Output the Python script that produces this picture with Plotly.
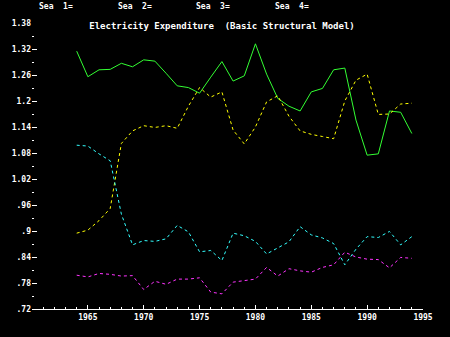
import plotly.graph_objects as go

# Seasonal factors by quarter, electricity expenditure, basic structural model
years = list(range(1964, 1995))

sea1 = [1.315, 1.256, 1.272, 1.273, 1.287, 1.279, 1.295, 1.292, 1.264, 1.235,
        1.231, 1.218, 1.255, 1.291, 1.246, 1.258, 1.332, 1.262, 1.206, 1.188,
        1.177, 1.221, 1.229, 1.272, 1.276, 1.156, 1.075, 1.078, 1.177, 1.174,
        1.125]
sea2 = [0.895, 0.902, 0.924, 0.952, 1.102, 1.131, 1.143, 1.139, 1.143, 1.137,
        1.188, 1.231, 1.209, 1.221, 1.133, 1.101, 1.140, 1.198, 1.212, 1.165,
        1.131, 1.123, 1.118, 1.113, 1.200, 1.248, 1.262, 1.169, 1.170, 1.193,
        1.195]
sea3 = [1.098, 1.096, 1.078, 1.062, 0.939, 0.868, 0.878, 0.876, 0.882, 0.913,
        0.898, 0.852, 0.855, 0.832, 0.895, 0.889, 0.876, 0.847, 0.861, 0.875,
        0.910, 0.891, 0.884, 0.871, 0.822, 0.858, 0.887, 0.885, 0.899, 0.868,
        0.887]
sea4 = [0.798, 0.794, 0.802, 0.800, 0.796, 0.797, 0.765, 0.784, 0.777, 0.789,
        0.789, 0.792, 0.759, 0.755, 0.782, 0.785, 0.789, 0.816, 0.796, 0.813,
        0.808, 0.805, 0.816, 0.822, 0.851, 0.840, 0.835, 0.834, 0.815, 0.839,
        0.837]

y_ticks = [0.72, 0.78, 0.84, 0.90, 0.96, 1.02, 1.08, 1.14, 1.20, 1.26, 1.32, 1.38]
y_labels = [".72", ".78", ".84", ".9", ".96", "1.02", "1.08", "1.14", "1.2",
            "1.26", "1.32", "1.38"]
x_ticks = [1965, 1970, 1975, 1980, 1985, 1990, 1995]
x_labels = [str(v) for v in x_ticks]

series = [
    ("Sea 1", sea1, "#33ff33", "solid"),
    ("Sea 2", sea2, "#ffff00", "dot"),
    ("Sea 3", sea3, "#33ffff", "dot"),
    ("Sea 4", sea4, "#ff33ff", "dot"),
]

FONT = "DejaVu Sans Mono"
W, H = 450, 337
plot_l, plot_r, plot_t, plot_b = 30, 423, 23, 309

fig = go.Figure()
for name, vals, color, dash in series:
    fig.add_trace(go.Scatter(
        x=years, y=vals, name=name, mode="lines",
        line=dict(color=color, width=1, dash=dash),
        showlegend=False,
    ))

# header row of series labels, positioned in pixels relative to the plot domain
for i, px in enumerate([35, 114, 193, 272]):
    fig.add_annotation(
        x=(px - plot_l) / (plot_r - plot_l),
        y=(plot_b - 6) / (plot_b - plot_t),
        xref="x domain", yref="y domain",
        text=f"<b>Sea\u00a0\u00a0{i + 1}=</b>", showarrow=False,
        xanchor="left", yanchor="middle",
        font=dict(family=FONT, size=8, color="#ffffff"),
    )

fig.update_layout(
    width=W, height=H,
    margin=dict(l=plot_l, r=W - plot_r, t=plot_t, b=H - plot_b),
    paper_bgcolor="#000000", plot_bgcolor="#000000",
    font=dict(family=FONT, size=8, color="#ffffff"),
    title=dict(
        text="<b>Electricity Expenditure  (Basic Structural Model)</b>",
        x=222 / W, xanchor="center", y=1 - 26 / H, yanchor="middle",
        font=dict(family=FONT, size=9, color="#ffffff"),
    ),
    xaxis=dict(
        range=[1960, 1995], showgrid=False, zeroline=False,
        showline=True, linecolor="#ffffff", linewidth=1,
        tickvals=x_ticks, ticktext=[f"<b>{t}</b>" for t in x_labels],
        ticks="inside", ticklen=4, tickcolor="#ffffff", tickwidth=1,
        minor=dict(dtick=1, ticks="inside", ticklen=2, tickcolor="#ffffff"),
        tickfont=dict(family=FONT, size=8, color="#ffffff"),
    ),
    yaxis=dict(
        range=[0.72, 1.38], showgrid=False, zeroline=False, showline=False,
        tickvals=y_ticks, ticktext=[f"<b>{t}</b>" for t in y_labels],
        ticks="inside", ticklen=5, tickcolor="#ffffff", tickwidth=1,
        minor=dict(dtick=0.03, tick0=0.72, ticks="inside", ticklen=2,
                   tickcolor="#ffffff"),
        tickfont=dict(family=FONT, size=8, color="#ffffff"),
    ),
)

fig.write_html("out.html")
